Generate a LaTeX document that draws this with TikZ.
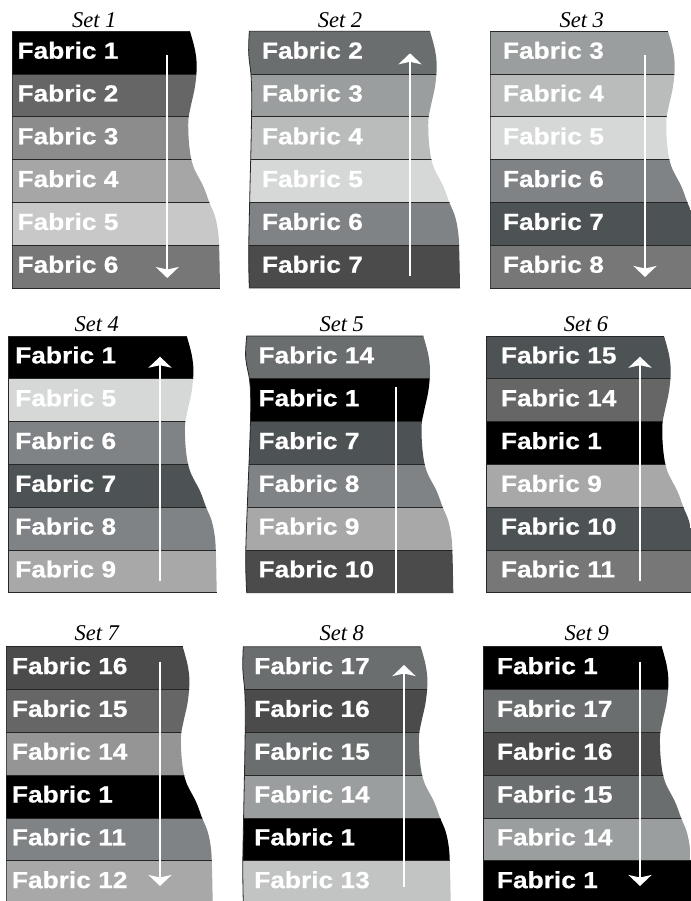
\documentclass[tikz,border=0pt]{standalone}
\usepackage{fontspec}
\usetikzlibrary{arrows.meta}
\newfontfamily\fabfont{Liberation Sans}[FakeStretch=1.13, FakeBold=0.6]
\newfontfamily\titlefont{Liberation Serif}
\definecolor{g00}{HTML}{000000}
\definecolor{g4b}{HTML}{4B4B4B}
\definecolor{g4d}{HTML}{4D5254}
\definecolor{g66}{HTML}{666666}
\definecolor{g6b}{HTML}{6B6E6F}
\definecolor{g77}{HTML}{777777}
\definecolor{g80}{HTML}{808385}
\definecolor{g8c}{HTML}{8C8C8C}
\definecolor{g95}{HTML}{959595}
\definecolor{g9b}{HTML}{9B9E9F}
\definecolor{ga6}{HTML}{A6A6A6}
\definecolor{ga8}{HTML}{A8A8A8}
\definecolor{gba}{HTML}{BABCBC}
\definecolor{gc2}{HTML}{C2C3C3}
\definecolor{gc8}{HTML}{C8C8C8}
\definecolor{gd6}{HTML}{D6D8D8}
\def\bh{42.8}
\tikzset{
  divider/.style={draw=black!85, line width=0.8pt},
  fabtext/.style={text=white, inner sep=0pt, font=\fabfont\bfseries\fontsize{23.3}{24}\selectfont},
  settitle/.style={inner sep=0pt, font=\titlefont\itshape\fontsize{22.5}{23}\selectfont},
  fabarrow/.style={draw=white, line width=2pt, -{Stealth[width=23pt,length=11pt,inset=2.5pt]}},
  fabline/.style={draw=white, line width=2pt},
}
% #1 id, #2 L, #3 T, #4 R, #5 left wave, #6 text dx, #7 bands
\newcommand\fabpanel[7]{%
  \begin{scope}
    \clip (#2,#3) -- plot[smooth,tension=0.6] coordinates {(#4,#3) ({#4+5},{#3+18.7}) ({#4+6.7},{#3+35.3}) ({#4+5},{#3+55.3}) ({#4+0.7},{#3+75.3}) ({#4-1.7},{#3+90}) ({#4-0.7},{#3+115}) ({#4+3.3},{#3+135}) ({#4+13.3},{#3+155}) ({#4+19.3},{#3+171}) ({#4+25},{#3+185}) ({#4+28.3},{#3+202}) ({#4+29.3},{#3+222}) ({#4+30},{#3+256.7})}
      -- plot[smooth,tension=0.6] coordinates {(#2,{#3+256.7}) ({#2-#5},{#3+220}) ({#2+#5},{#3+160}) ({#2+3*#5},{#3+110}) ({#2+4*#5},{#3+70}) ({#2+3*#5},{#3+45}) ({#2-#5},{#3+22}) (#2,#3)} -- cycle;
    \foreach \c/\t [count=\i from 0] in {#7}{
      \fill[\c] ({#2-10},{#3+\i*\bh}) rectangle ({#4+40},{#3+(\i+1)*\bh});
    }
    \foreach \i in {1,...,5}{
      \draw[divider] ({#2-10},{#3+\i*\bh}) -- ({#4+40},{#3+\i*\bh});
    }
  \end{scope}
  \draw[divider] (#4,#3) -- (#2,#3) -- plot[smooth,tension=0.6] coordinates {(#2,#3) ({#2-#5},{#3+22}) ({#2+3*#5},{#3+45}) ({#2+4*#5},{#3+70}) ({#2+3*#5},{#3+110}) ({#2+#5},{#3+160}) ({#2-#5},{#3+220}) (#2,{#3+256.7})} -- ({#4+30},{#3+256.7});
  \foreach \c/\t [count=\i from 0] in {#7}{
    \node[fabtext, anchor=base west] (n#1-\i) at ({#2+#6},{#3+\i*\bh+27.4}) {\t};
  }
}
\begin{document}
\begin{tikzpicture}[x=1pt,y=-1pt]
\useasboundingbox (0,0) rectangle (690,901);
\fill[white] (0,0) rectangle (690,901);

% Row 1
\fabpanel{1}{12}{31.3}{190}{0}{5.3}{g00/Fabric 1, g66/Fabric 2, g8c/Fabric 3, ga6/Fabric 4, gc8/Fabric 5, g77/Fabric 6}
\fabpanel{2}{249.3}{31.3}{430}{0.6}{12.4}{g6b/Fabric 2, g9b/Fabric 3, gba/Fabric 4, gd6/Fabric 5, g80/Fabric 6, g4b/Fabric 7}
\fabpanel{3}{490}{31.3}{668}{0}{12.7}{g9b/Fabric 3, gba/Fabric 4, gd6/Fabric 5, g80/Fabric 6, g4d/Fabric 7, g77/Fabric 8}
\node[settitle, anchor=base] (t1) at (94.3,28) {Set 1};
\node[settitle, anchor=base] (t2) at (340,28) {Set 2};
\node[settitle, anchor=base] (t3) at (581.7,28) {Set 3};

% Row 2
\fabpanel{4}{8.3}{336}{186.7}{0}{6.7}{g00/Fabric 1, gd6/Fabric 5, g80/Fabric 6, g4d/Fabric 7, g80/Fabric 8, ga8/Fabric 9}
\fabpanel{5}{246.7}{336}{423.3}{1}{11.6}{g6b/Fabric 14, g00/Fabric 1, g4d/Fabric 7, g80/Fabric 8, ga8/Fabric 9, g4b/Fabric 10}
\fabpanel{6}{486.7}{336}{664}{0}{14}{g4d/Fabric 15, g66/Fabric 14, g00/Fabric 1, ga8/Fabric 9, g4d/Fabric 10, g77/Fabric 11}
\node[settitle, anchor=base] (t4) at (96.7,331.7) {Set 4};
\node[settitle, anchor=base] (t5) at (341.7,331.7) {Set 5};
\node[settitle, anchor=base] (t6) at (586,331.7) {Set 6};

% Row 3
\fabpanel{7}{6}{646.7}{182.7}{0}{5.7}{g4b/Fabric 16, g66/Fabric 15, g95/Fabric 14, g00/Fabric 1, g80/Fabric 11, ga8/Fabric 12}
\fabpanel{8}{243.3}{646.7}{420.7}{0.5}{10.7}{g6b/Fabric 17, g4b/Fabric 16, g6b/Fabric 15, g9b/Fabric 14, g00/Fabric 1, gc2/Fabric 13}
\fabpanel{9}{483.3}{646.7}{661.7}{0}{13.4}{g00/Fabric 1, g6b/Fabric 17, g4b/Fabric 16, g6b/Fabric 15, g9b/Fabric 14, g00/Fabric 1}
\node[settitle, anchor=base] (t7) at (96.7,640.7) {Set 7};
\node[settitle, anchor=base] (t8) at (341.7,640.7) {Set 8};
\node[settitle, anchor=base] (t9) at (586.7,640.7) {Set 9};

% Arrows
\coordinate (a1s) at (167.3,55);   \coordinate (a1e) at (167.3,278);
\coordinate (a2s) at (410,276);    \coordinate (a2e) at (410,53.3);
\coordinate (a3s) at (645,55);     \coordinate (a3e) at (645,277);
\coordinate (a4s) at (160,581);    \coordinate (a4e) at (160,356.7);
\coordinate (a5s) at (395.7,387.3); \coordinate (a5e) at (395.7,592.7);
\coordinate (a6s) at (640,581);    \coordinate (a6e) at (640,356.7);
\coordinate (a7s) at (160,661.7);  \coordinate (a7e) at (160,886);
\coordinate (a8s) at (404,886.7);  \coordinate (a8e) at (404,665);
\coordinate (a9s) at (640,661.7);  \coordinate (a9e) at (640,886);
\draw[fabarrow] (a1s) -- (a1e);
\draw[fabarrow] (a2s) -- (a2e);
\draw[fabarrow] (a3s) -- (a3e);
\draw[fabarrow] (a4s) -- (a4e);
\draw[fabline]  (a5s) -- (a5e);
\draw[fabarrow] (a6s) -- (a6e);
\draw[fabarrow] (a7s) -- (a7e);
\draw[fabarrow] (a8s) -- (a8e);
\draw[fabarrow] (a9s) -- (a9e);
\end{tikzpicture}
\end{document}
